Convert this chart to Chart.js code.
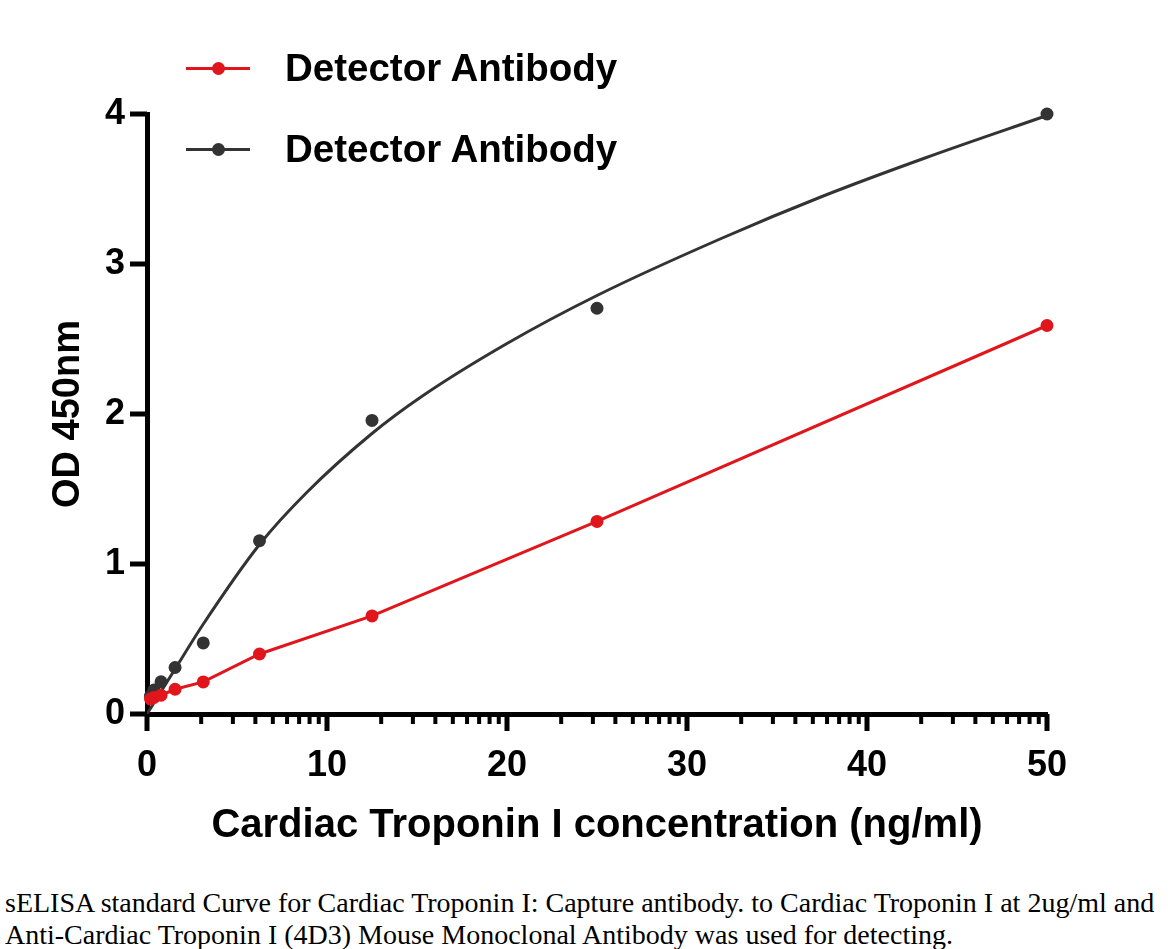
<!DOCTYPE html>
<html>
<head>
<meta charset="utf-8">
<script src="https://cdn.jsdelivr.net/npm/chart.js@4/dist/chart.umd.min.js"></script>
<style>
  body { margin: 0; background: #fff; width: 1172px; height: 949px; overflow: hidden; position: relative; }
  #wrap { position: absolute; left: 0; top: 0; width: 1172px; height: 880px; }
  .leg { position: absolute; left: 186px; height: 40px; font: bold 38.5px "Liberation Sans", Arial, sans-serif; color: #000; }
  .leg .ln { position: absolute; left: 0; top: 18px; width: 64px; height: 3px; }
  .leg .dot { position: absolute; left: 26px; top: 13px; width: 13px; height: 13px; border-radius: 50%; }
  .leg .txt { position: absolute; left: 99px; top: -3px; white-space: nowrap; }
  #caption { position: absolute; left: 5px; top: 887px; font: 28px "Liberation Serif", "Times New Roman", serif; line-height: 32px; color: #000; white-space: nowrap; }
</style>
</head>
<body>
<div id="wrap"><canvas id="chart"></canvas></div>
<div class="leg" style="top:49px"><span class="ln" style="background:#e0161c"></span><span class="dot" style="background:#e0161c"></span><span class="txt">Detector Antibody</span></div>
<div class="leg" style="top:130px"><span class="ln" style="background:#333"></span><span class="dot" style="background:#333"></span><span class="txt">Detector Antibody</span></div>
<div id="caption">sELISA standard Curve for Cardiac Troponin I: Capture antibody. to Cardiac Troponin I at 2ug/ml and<br>Anti-Cardiac Troponin I (4D3) Mouse Monoclonal Antibody was used for detecting.</div>
<script>
// concentrations (ng/ml), 2-fold dilution series
const conc = [0.195, 0.39, 0.78, 1.56, 3.125, 6.25, 12.5, 25, 50];
const redOD = [0.10, 0.11, 0.125, 0.165, 0.214, 0.40, 0.654, 1.284, 2.59];
const blackOD = [0.12, 0.16, 0.215, 0.31, 0.474, 1.155, 1.957, 2.705, 4.0];

// fitted curve for the black series
const fitX = [0, 1.56, 3.13, 6.25, 8.9, 12.5, 15.3, 20, 25, 31.9, 37.5, 43.3, 50];
const fitY = [0, 0.3, 0.6, 1.13, 1.48, 1.87, 2.12, 2.47, 2.79, 3.17, 3.45, 3.71, 3.99];

const xMajor = [0, 10, 20, 30, 40, 50];
const yMajor = [0, 1, 2, 3, 4];
const minorSteps = [2, 3, 4, 5, 6, 7, 8, 9];

const RED = "#e0161c";
const DARK = "#333333";

const toPts = (xs, ys) => xs.map((x, i) => ({ x, y: ys[i] }));

// ticks are drawn by hand: long major ticks, short minor ones in log steps
const axisTicks = {
  id: "axisTicks",
  afterDraw(chart) {
    const { ctx, scales: { x, y } } = chart;
    ctx.save();
    ctx.fillStyle = "#000";
    const base = y.getPixelForValue(0);
    xMajor.forEach(v => {
      const px = x.getPixelForValue(v);
      ctx.fillRect(px - 2.5, base, 5, 17);
    });
    xMajor.slice(0, -1).forEach(d => {
      minorSteps.forEach(m => {
        const px = x.getPixelForValue(d + 10 * Math.log10(m));
        ctx.fillRect(px - 2, base, 4, 10);
      });
    });
    const left = x.getPixelForValue(0);
    yMajor.forEach(v => {
      const py = y.getPixelForValue(v);
      ctx.fillRect(left - 17, py - 2.5, 17, 5);
    });
    ctx.restore();
  }
};

const boldFont = size => ({ family: "'Liberation Sans', Arial, sans-serif", size, weight: "bold" });

new Chart(document.getElementById("chart"), {
  type: "scatter",
  data: {
    datasets: [
      {
        label: "Detector Antibody",
        data: toPts(conc, redOD),
        showLine: true,
        borderColor: RED,
        backgroundColor: RED,
        borderWidth: 3,
        pointRadius: 6.5,
        pointBorderWidth: 0,
        clip: false,
        order: 1
      },
      {
        label: "Detector Antibody",
        data: toPts(conc, blackOD),
        showLine: false,
        borderColor: DARK,
        backgroundColor: DARK,
        pointRadius: 6.5,
        pointBorderWidth: 0,
        clip: false,
        order: 2
      },
      {
        label: "fit",
        data: toPts(fitX, fitY),
        showLine: true,
        borderColor: DARK,
        borderWidth: 3,
        pointRadius: 0,
        cubicInterpolationMode: "monotone",
        clip: false,
        order: 3
      }
    ]
  },
  options: {
    responsive: true,
    maintainAspectRatio: false,
    animation: false,
    layout: { padding: { top: 114, right: 125, left: 0, bottom: 0 } },
    plugins: { legend: { display: false }, tooltip: { enabled: false } },
    scales: {
      x: {
        type: "linear",
        min: 0,
        max: 50,
        afterFit: s => { s.height = 166; },
        afterBuildTicks: s => { s.ticks = xMajor.map(v => ({ value: v })); },
        grid: { display: false, drawTicks: false },
        border: { display: true, color: "#000", width: 5 },
        ticks: { color: "#000", font: boldFont(36), padding: 30, maxRotation: 0 },
        title: {
          display: true,
          text: "Cardiac Troponin I concentration (ng/ml)",
          color: "#000",
          font: boldFont(40),
          padding: { top: 0, bottom: 30 }
        }
      },
      y: {
        type: "linear",
        min: 0,
        max: 4,
        afterFit: s => { s.width = 147; },
        afterBuildTicks: s => { s.ticks = yMajor.map(v => ({ value: v })); },
        grid: { display: false, drawTicks: false },
        border: { display: true, color: "#000", width: 5 },
        ticks: { color: "#000", font: boldFont(36), padding: 22 },
        title: {
          display: true,
          text: "OD 450nm",
          color: "#000",
          font: boldFont(38),
          padding: { top: 46, bottom: 0 }
        }
      }
    }
  },
  plugins: [axisTicks]
});
</script>
</body>
</html>
